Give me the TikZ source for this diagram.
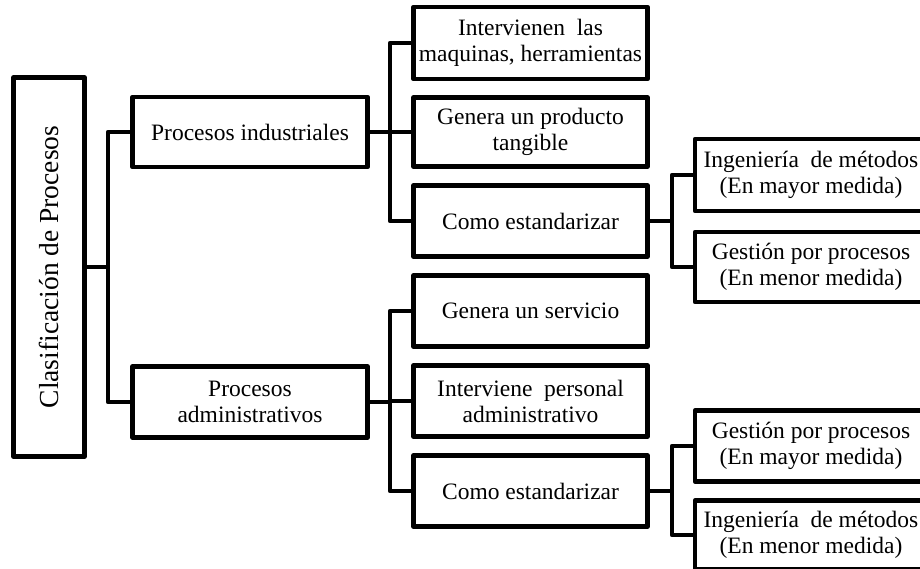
\documentclass[tikz,border=0pt]{standalone}
\usepackage{fontspec}
\setmainfont{Liberation Serif}
\begin{document}
\begin{tikzpicture}[x=1pt,y=-1pt,
  box/.style={draw=black, line width=4.5pt, line join=round, fill=white,
    align=center, inner sep=2pt, font=\fontsize{23.5}{26}\selectfont},
  lvone/.style={box, minimum width=235pt, minimum height=70pt},
  lvtwo/.style={box, minimum width=234pt, minimum height=71pt},
  lvthree/.style={box, minimum width=232pt, minimum height=71pt},
  link/.style={draw=black, line width=4.5pt, line join=round}]
\useasboundingbox (0,0) rectangle (920,569);
\clip (0,0) rectangle (920,569);

% root
\node[box, rotate=90, minimum width=379pt, minimum height=71pt,
  font=\fontsize{27.5}{30}\selectfont] (root) at (49,267) {Clasificación de Procesos};

% first level
\node[lvone] (ind) at (250,132) {Procesos industriales};
\node[lvone, minimum height=71pt] (adm) at (250,402) {Procesos\\administrativos};

% second level, industrial branch
\node[lvtwo, minimum height=72pt] (i1) at (530.5,43) {Intervienen\ \ las\\maquinas, herramientas};
\node[lvtwo, minimum height=69pt] (i2) at (530.5,132) {Genera un producto\\tangible};
\node[lvtwo] (i3) at (530.5,221) {Como estandarizar};

% second level, administrative branch
\node[lvtwo] (a1) at (530.5,311) {Genera un servicio};
\node[lvtwo] (a2) at (530.5,401) {Interviene\ \ personal\\administrativo};
\node[lvtwo] (a3) at (530.5,491) {Como estandarizar};

% third level
\node[lvthree, minimum height=72pt] (i31) at (811,175) {Ingeniería\ \ de métodos\\(En mayor medida)};
\node[lvthree, minimum height=70pt] (i32) at (811,267) {Gestión por procesos\\(En menor medida)};
\node[lvthree] (a31) at (811,446) {Gestión por procesos\\(En mayor medida)};
\node[lvthree, minimum height=69pt] (a32) at (811,535) {Ingeniería\ \ de métodos\\(En menor medida)};

% bracket junctions
\coordinate (j0) at (108,267);
\coordinate (j1) at (390,132);
\coordinate (j2) at (390,402);
\coordinate (j3) at (672,221);
\coordinate (j4) at (672,491);

% connectors
\draw[link] (root.south) -- (j0);
\draw[link] (j0) |- (ind.west);
\draw[link] (j0) |- (adm.west);

\draw[link] (ind.east) -- (j1);
\draw[link] (j1) |- (i1.west);
\draw[link] (j1) |- (i2.west);
\draw[link] (j1) |- (i3.west);

\draw[link] (adm.east) -- (j2);
\draw[link] (j2) |- (a1.west);
\draw[link] (j2) |- (a2.west);
\draw[link] (j2) |- (a3.west);

\draw[link] (i3.east) -- (j3);
\draw[link] (j3) |- (i31.west);
\draw[link] (j3) |- (i32.west);

\draw[link] (a3.east) -- (j4);
\draw[link] (j4) |- (a31.west);
\draw[link] (j4) |- (a32.west);
\end{tikzpicture}
\end{document}
